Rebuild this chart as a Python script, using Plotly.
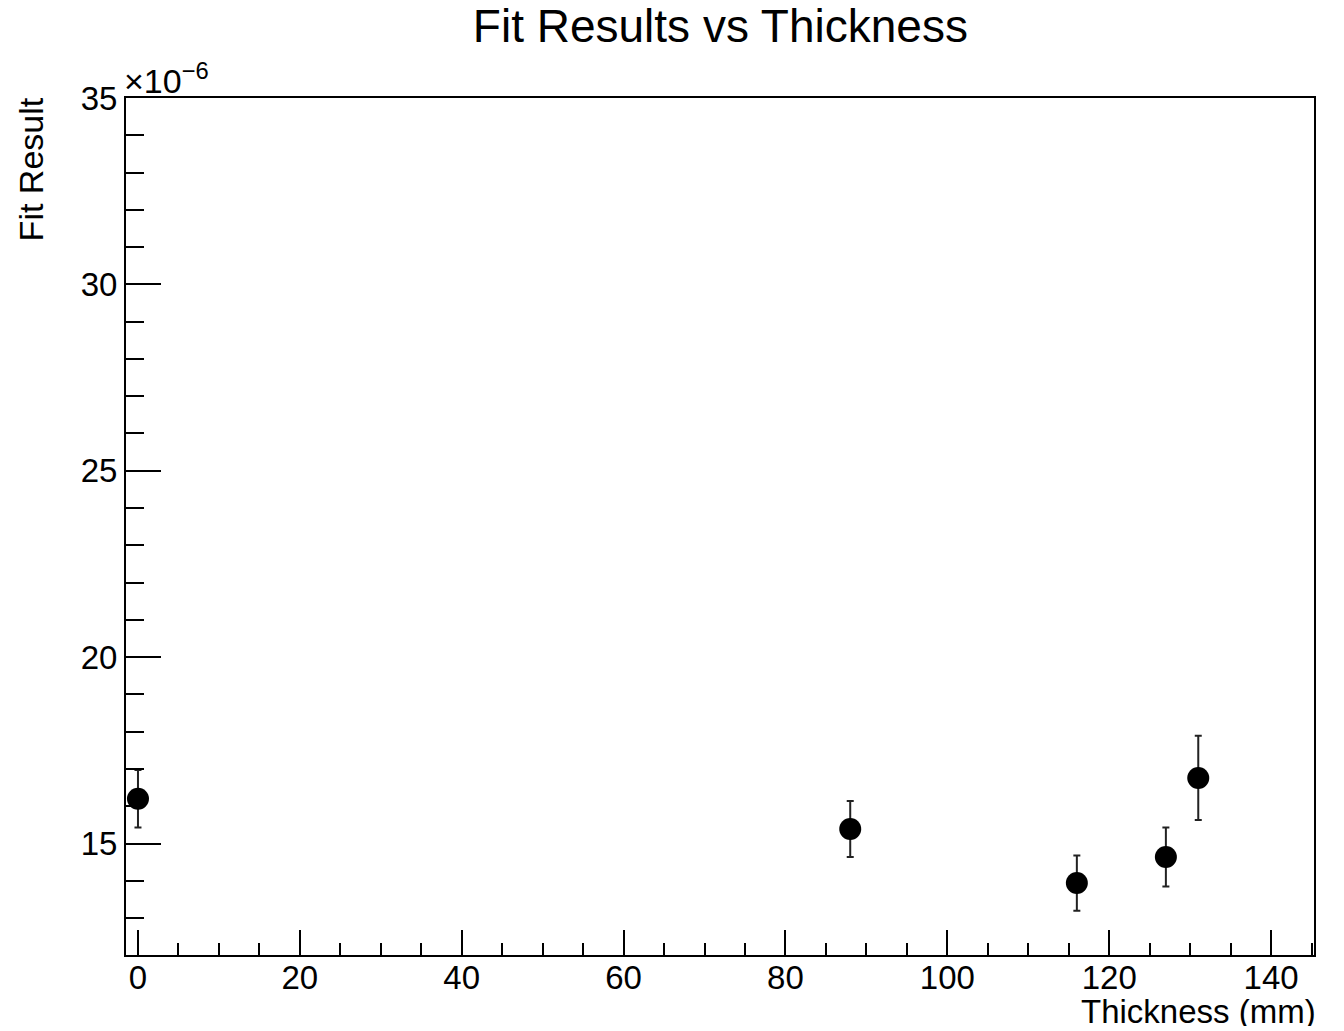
import plotly.graph_objects as go

# Fit results (in units of 1e-6) against absorber thickness
thickness_mm = [0, 88, 116, 127, 131]
fit_result = [16.20, 15.39, 13.94, 14.64, 16.76]
fit_error = [0.77, 0.75, 0.74, 0.79, 1.13]

x_tick_vals = [0, 20, 40, 60, 80, 100, 120, 140]
y_tick_vals = [15, 20, 25, 30, 35]

FONT = "Liberation Sans, Arial, Helvetica, sans-serif"

fig = go.Figure()
fig.add_trace(go.Scatter(
    x=thickness_mm,
    y=fit_result,
    mode="markers",
    marker=dict(symbol="circle", size=22, color="black"),
    error_y=dict(type="data", array=fit_error, visible=True,
                 color="#222222", thickness=2, width=3.5),
    showlegend=False,
))

axis_common = dict(
    showgrid=False, zeroline=False,
    showline=True, linecolor="black", linewidth=2, mirror=True,
    ticks="inside", tickcolor="black", tickwidth=2,
    tickfont=dict(family=FONT, size=33, color="black"),
)

fig.update_xaxes(
    range=[-1.48, 145.3],
    tickvals=x_tick_vals,
    ticklen=25,
    ticklabelstandoff=-8,
    minor=dict(dtick=5, ticklen=12, ticks="inside", tickcolor="black", tickwidth=2),
    **axis_common,
)
fig.update_yaxes(
    range=[12.01, 35],
    tickvals=y_tick_vals,
    ticklen=35,
    minor=dict(dtick=1, ticklen=18, ticks="inside", tickcolor="black", tickwidth=2),
    **axis_common,
)

fig.update_layout(
    width=1344, height=1031,
    margin=dict(l=126, r=30, t=98, b=76),
    paper_bgcolor="white", plot_bgcolor="white",
    title=dict(text="Fit Results vs Thickness", x=0.536, xanchor="center",
               y=0.975, yanchor="middle",
               font=dict(family=FONT, size=46, color="black")),
    annotations=[
        dict(text="Thickness (mm)", xref="paper", yref="paper", x=1.003, y=-0.0648,
             xanchor="right", yanchor="middle", height=30, valign="middle",
             showarrow=False,
             font=dict(family=FONT, size=33, color="black")),
        dict(text="Fit Result", xref="paper", yref="paper", x=-0.080, y=1.003,
             xanchor="center", yanchor="top", textangle=-90, showarrow=False,
             font=dict(family=FONT, size=34, color="black")),
        dict(text="×10<sup>−6</sup>", xref="paper", yref="paper", x=-0.003, y=0.995,
             xanchor="left", yanchor="bottom", showarrow=False,
             font=dict(family=FONT, size=34, color="black")),
    ],
)

fig.write_html("out.html")
